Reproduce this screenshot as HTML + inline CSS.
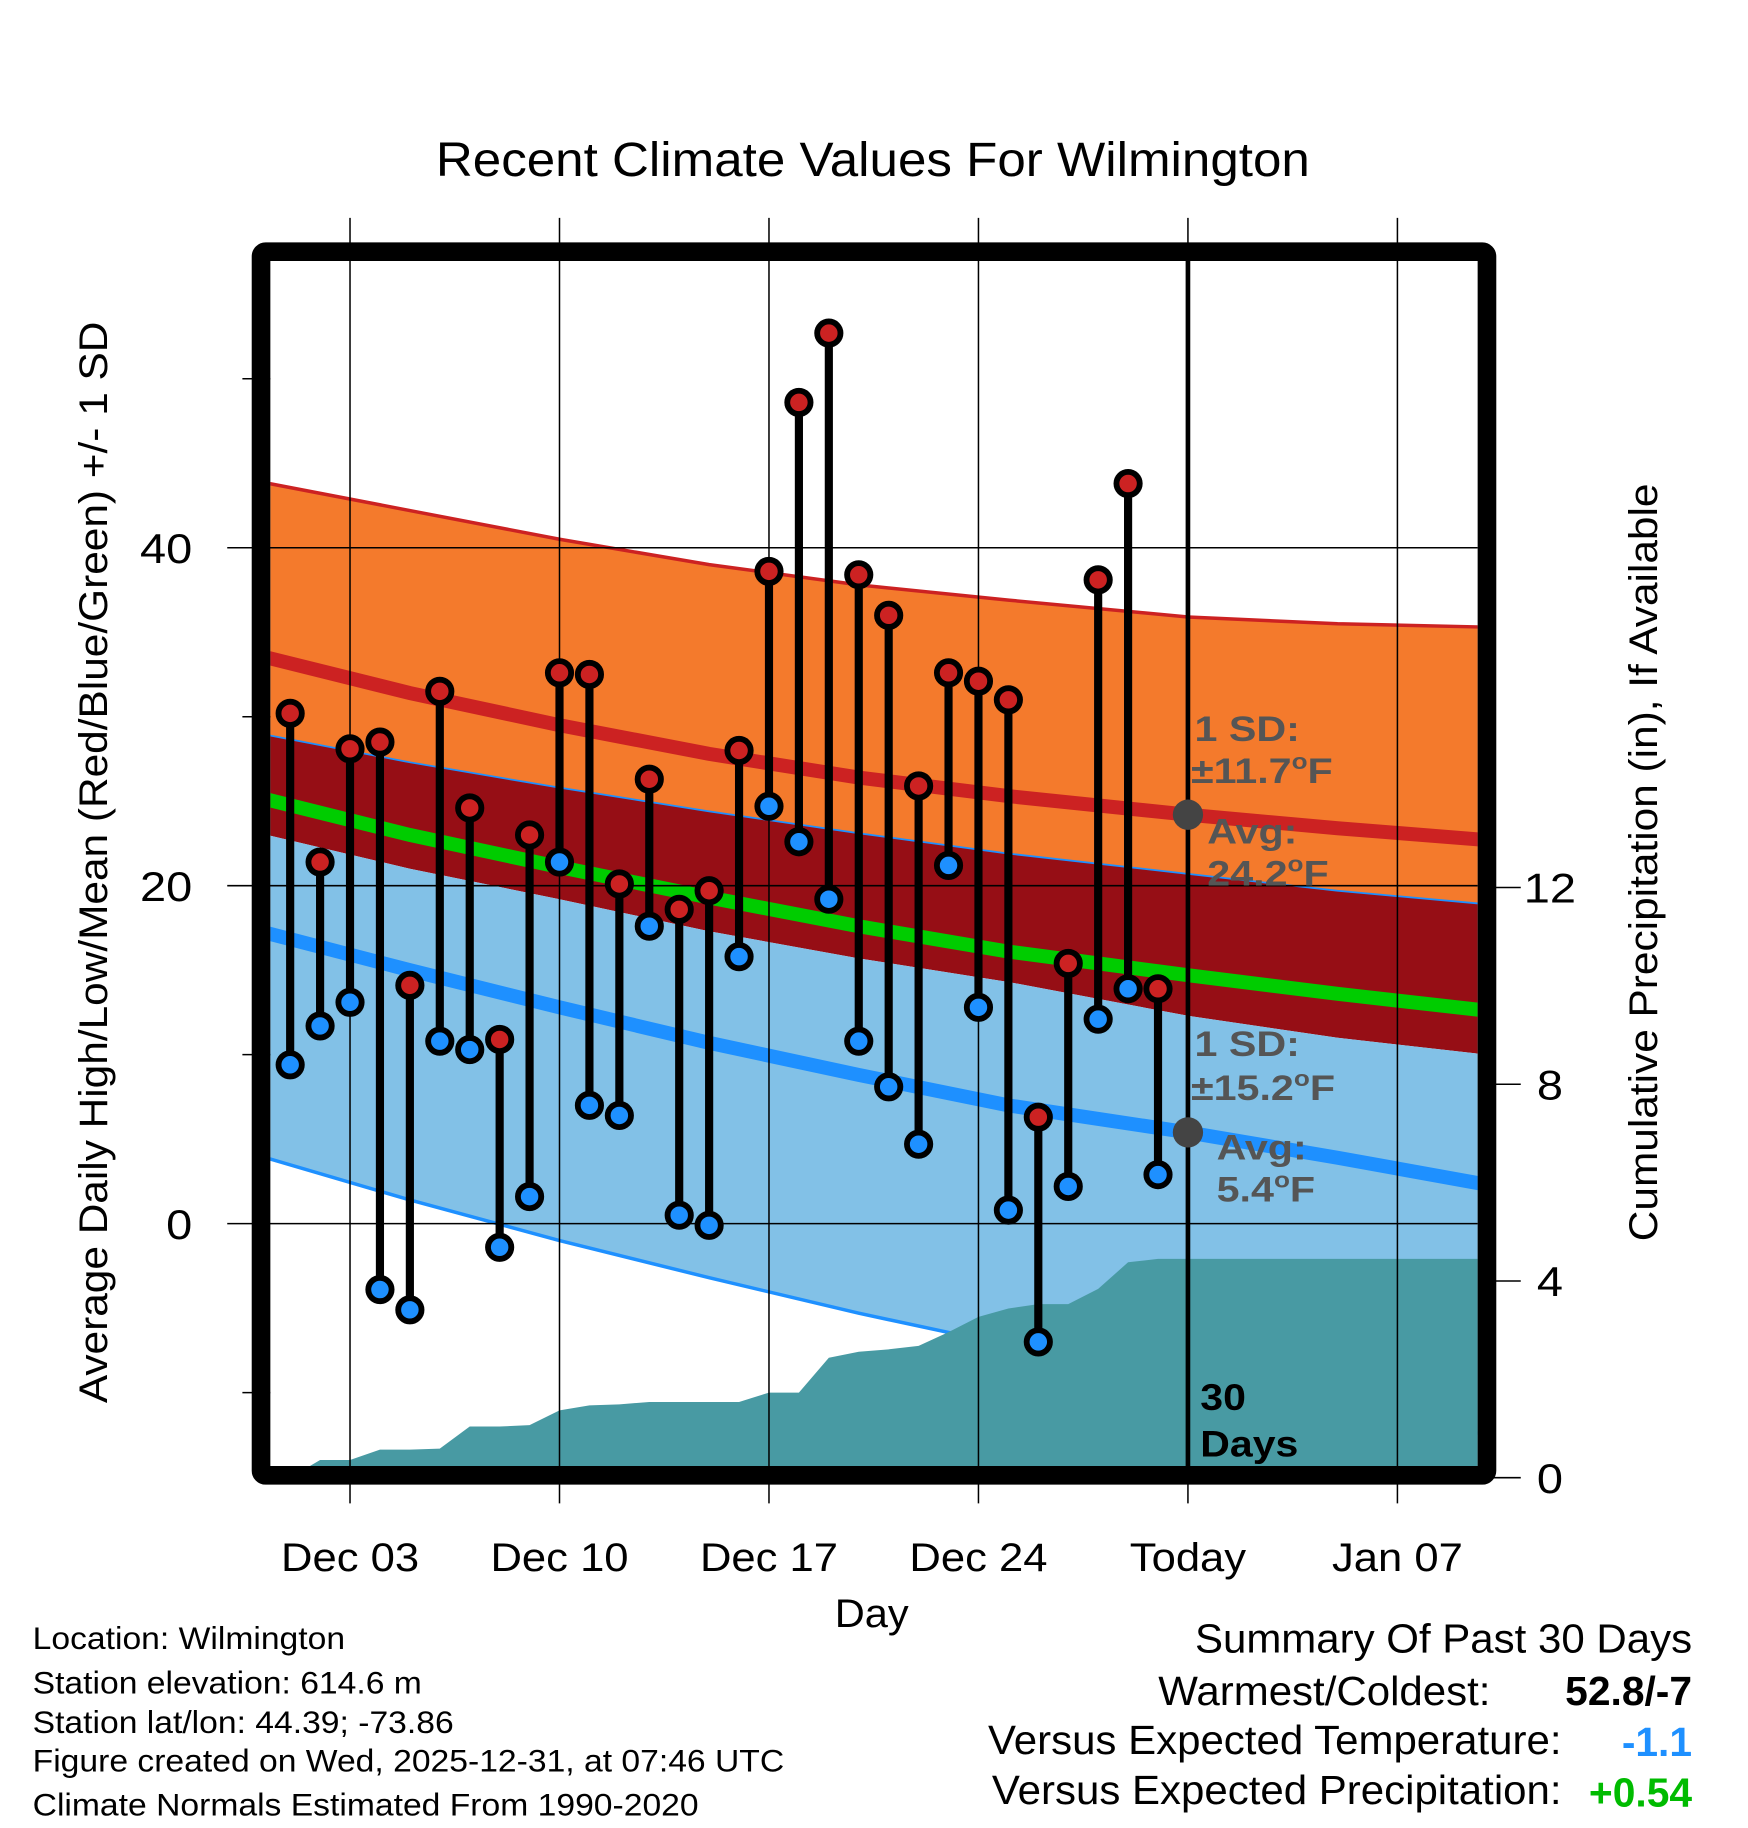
<!DOCTYPE html>
<html><head><meta charset="utf-8"><style>
html,body{margin:0;padding:0;background:#fff}
svg{display:block}
text{font-family:"Liberation Sans",sans-serif}
</style></head><body>
<svg id="chart" width="1748" height="1828" viewBox="0 0 1500 1568.6" preserveAspectRatio="none" xmlns="http://www.w3.org/2000/svg"></svg>
<script>
// ---- data ----
const dayLabels = ["Dec 03","Dec 10","Dec 17","Dec 24","Today","Jan 07"];
const dayTickIdx = [2,9,16,23,30,37];
const highs = [30.2,21.4,28.1,28.5,14.1,31.5,24.6,10.9,23.0,32.6,32.5,20.1,26.3,18.6,19.7,28.0,38.6,48.6,52.7,38.4,36.0,25.9,32.6,32.1,31.0,6.3,15.4,38.1,43.8,13.9];
const lows = [9.4,11.7,13.1,-3.9,-5.1,10.8,10.3,-1.4,1.6,21.4,7.0,6.4,17.6,0.5,-0.1,15.8,24.7,22.6,19.2,10.8,8.1,4.7,21.2,12.8,0.8,-7.0,2.2,12.1,13.9,2.9];
const precip = [0,0.36,0.36,0.57,0.57,0.59,1.04,1.04,1.07,1.37,1.47,1.49,1.54,1.54,1.54,1.54,1.73,1.73,2.44,2.56,2.61,2.68,2.96,3.27,3.44,3.53,3.53,3.84,4.38,4.45];
const normDays = [-1,4,9,14,19,24,30,35,40];
const highUpper = [43.9,42.2,40.5,39.0,37.8,36.9,35.9,35.5,35.3];
const highMean = [33.6,31.4,29.5,27.8,26.4,25.3,24.2,23.4,22.7];
const highLower = [23.1,21.0,19.2,17.3,15.7,14.3,12.3,11.0,10.0];
const lowUpper = [29.0,27.3,25.8,24.4,23.1,21.9,20.7,19.7,18.9];
const lowMean = [17.3,15.0,12.8,10.7,8.8,7.0,5.4,3.9,2.3];
const lowLower = [4.0,1.4,-1.0,-3.2,-5.3,-7.2,-9.2,-11.0,-12.5];
const meanT = [25.2,23.0,21.1,19.3,17.6,16.1,14.7,13.6,12.6];
const leftTicks = [0,20,40];
const minorTicks = [-10,10,30,50];
const rightTicks = [0,4,8,12];

// ---- axes ----
const PL=232, PR=1268, PT=224, PB=1260;
const X = d => 249 + d*25.68;
const Y = v => 1050 - v*14.5;
const YP = p => 1268 - p*42.2;
const NS="http://www.w3.org/2000/svg";
const svg=document.getElementById('chart');
function el(tag, attrs, parent){const e=document.createElementNS(NS,tag);for(const k in attrs)e.setAttribute(k,attrs[k]);(parent||svg).appendChild(e);return e;}
function stxt(s,x,y,sx,attrs){const e=el('text',Object.assign({x:0,y:0,transform:'translate('+x+','+y+') scale('+sx+',1)'},attrs));e.textContent=s;return e;}

const defs=el('defs',{});
const cp=el('clipPath',{id:'plotclip'},defs);
el('rect',{x:PL,y:PT,width:PR-PL,height:PB-PT},cp);
const g=el('g',{'clip-path':'url(#plotclip)'});



function bandPath(up,lo){
  let d='';
  normDays.forEach((t,i)=>{d+=(i?'L':'M')+X(t)+','+Y(up[i]);});
  for(let i=normDays.length-1;i>=0;i--) d+='L'+X(normDays[i])+','+Y(lo[i]);
  return d+'Z';
}
function linePath(a){let d='';normDays.forEach((t,i)=>{d+=(i?'L':'M')+X(t)+','+Y(a[i]);});return d;}

let e;
e=el('path',{d:bandPath(highUpper,lowUpper),fill:'#f47a2c'},g);


e=el('path',{d:bandPath(lowUpper,highLower),fill:'#960e15'},g);


e=el('path',{d:bandPath(highLower,lowLower),fill:'#82c1e7'},g);


e=el('path',{d:linePath(highUpper),fill:'none',stroke:'#cc2222','stroke-width':3},g);


e=el('path',{d:linePath(lowUpper),fill:'none',stroke:'#1e90ff','stroke-width':1.5},g);


e=el('path',{d:linePath(lowLower),fill:'none',stroke:'#1e90ff','stroke-width':3},g);


e=el('path',{d:linePath(highMean),fill:'none',stroke:'#cc2222','stroke-width':12},g);


e=el('path',{d:linePath(meanT),fill:'none',stroke:'#00cc00','stroke-width':12},g);


e=el('path',{d:linePath(lowMean),fill:'none',stroke:'#1e90ff','stroke-width':12},g);



// precipitation area
let pd='M'+X(0)+','+YP(0);
precip.forEach((p,i)=>{pd+='L'+X(i)+','+YP(p);});
pd+='L'+(PR+5)+','+YP(precip[precip.length-1])+'L'+(PR+5)+','+YP(0)+'Z';
e=el('path',{d:pd,fill:'#489aa3'},g);



// gridlines
leftTicks.forEach(v=>{const l=el('line',{x1:195,x2:PR,y1:Y(v),y2:Y(v),stroke:'#000','stroke-width':1.3});

});
dayTickIdx.forEach(d=>{const l=el('line',{x1:X(d),x2:X(d),y1:187,y2:1290,stroke:'#000','stroke-width':1.3});

});
minorTicks.forEach(v=>{const l=el('line',{x1:208,x2:PL,y1:Y(v),y2:Y(v),stroke:'#000','stroke-width':1.3});

});
rightTicks.forEach(p=>{const l=el('line',{x1:1276,x2:1305,y1:YP(p),y2:YP(p),stroke:'#000','stroke-width':1.3});


const t=stxt(String(p),1330,YP(p)+13,1.12,{'font-size':36,'text-anchor':'middle'});

});
leftTicks.forEach(v=>{const t=stxt(String(v),165,Y(v)+13,1.12,{'font-size':36,'text-anchor':'end'});

});
dayTickIdx.forEach((d,i)=>{const t=stxt(dayLabels[i],X(d),1348,1.1,{'font-size':34,'text-anchor':'middle'});

});

// today line
e=el('line',{x1:X(30),x2:X(30),y1:PT,y2:PB,stroke:'#000','stroke-width':4});



// stems and points
highs.forEach((h,i)=>{
  const s=el('line',{x1:X(i),x2:X(i),y1:Y(h),y2:Y(lows[i]),stroke:'#000','stroke-width':7});
  
  
});
highs.forEach((h,i)=>{
  const c=el('circle',{cx:X(i),cy:Y(h),r:10,fill:'#cc2222',stroke:'#000','stroke-width':5});
  
  
  const c2=el('circle',{cx:X(i),cy:Y(lows[i]),r:10,fill:'#1e90ff',stroke:'#000','stroke-width':5});
  
  
});

// avg dots
e=el('circle',{cx:X(30),cy:Y(highMean[6]),r:13,fill:'#444'});


e=el('circle',{cx:X(30),cy:Y(lowMean[6]),r:13,fill:'#444'});



// frame
e=el('rect',{x:224,y:216,width:1052,height:1050,fill:'none',stroke:'#000','stroke-width':16,rx:4});


</script>
<script>
(function(){
const svg=document.getElementById('chart');
const NS="http://www.w3.org/2000/svg";
function T(s,x,y,attrs,name,sx,rot){const t=document.createElementNS(NS,'text');t.setAttribute('x',0);t.setAttribute('y',0);
t.setAttribute('transform','translate('+x+','+y+')'+(rot?' rotate('+rot+')':'')+' scale('+(sx||1)+',1)');
for(const k in attrs)t.setAttribute(k,attrs[k]);t.innerHTML=s;


svg.appendChild(t);return t;}
const ann={'font-size':30,'font-weight':'bold',fill:'#555'};
const sa=1.18;
T('1 SD:',1025,636,ann,'high-sd-label',sa);
T('±11.7<tspan dy="-12" font-size="19">o</tspan><tspan dy="12">F</tspan>',1022,672,ann,'high-sd-value',sa);
T('Avg:',1036,724,ann,'high-avg-label',sa);
T('24.2<tspan dy="-12" font-size="19">o</tspan><tspan dy="12">F</tspan>',1036,760,ann,'high-avg-value',sa);
T('1 SD:',1025,906,ann,'low-sd-label',sa);
T('±15.2<tspan dy="-12" font-size="19">o</tspan><tspan dy="12">F</tspan>',1022,944,ann,'low-sd-value',sa);
T('Avg:',1044,995,ann,'low-avg-label',sa);
T('5.4<tspan dy="-12" font-size="19">o</tspan><tspan dy="12">F</tspan>',1044,1031,ann,'low-avg-value',sa);
T('30',1030,1210,{'font-size':32,'font-weight':'bold'},'days-count',1.1);
T('Days',1030,1250,{'font-size':32,'font-weight':'bold'},'days-label',1.1);
T('Recent Climate Values For Wilmington',749,151,{'font-size':41,'text-anchor':'middle'},'chart-title',1.07);
T('Average Daily High/Low/Mean (Red/Blue/Green) +/- 1 SD',92,740,{'font-size':34,'text-anchor':'middle'},'y-axis-title',1.07,-90);
T('Cumulative Precipitation (in), If Available',1422,740,{'font-size':34,'text-anchor':'middle'},'right-axis-title',1.07,-90);
T('Day',748,1396,{'font-size':34,'text-anchor':'middle'},'x-axis-title',1.05);
const info=['Location: Wilmington','Station elevation: 614.6 m','Station lat/lon: 44.39; -73.86','Figure created on Wed, 2025-12-31, at 07:46 UTC','Climate Normals Estimated From 1990-2020'];
const iy=[1415,1453,1487,1520,1558];
info.forEach((s,i)=>T(s,28,iy[i],{'font-size':27},'info-line',1.07));
T('Summary Of Past 30 Days',1452,1418,{'font-size':35,'text-anchor':'end'},'summary-title',1.03);
T('Warmest/Coldest:',1279,1463,{'font-size':35,'text-anchor':'end'},'warmest-label',1.03);
T('52.8/-7',1452,1463,{'font-size':35,'text-anchor':'end','font-weight':'bold'},'warmest-value',1.0);
T('Versus Expected Temperature:',1340,1505,{'font-size':35,'text-anchor':'end'},'temp-label',1.03);
T('-1.1',1452,1507,{'font-size':35,'text-anchor':'end','font-weight':'bold',fill:'#1e90ff'},'temp-value',1.0);
T('Versus Expected Precipitation:',1340,1548,{'font-size':35,'text-anchor':'end'},'precip-label',1.03);
T('+0.54',1452,1550,{'font-size':35,'text-anchor':'end','font-weight':'bold',fill:'#00bb00'},'precip-value',1.0);
})();
</script>
</body></html>
